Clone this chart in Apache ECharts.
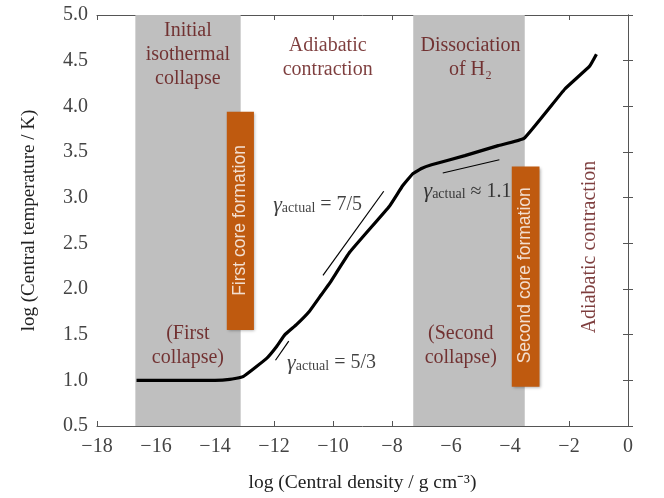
<!DOCTYPE html>
<html>
<head>
<meta charset="utf-8">
<script src="https://cdn.jsdelivr.net/npm/echarts@6/dist/echarts.min.js"></script>
<style>
  html, body { margin: 0; padding: 0; background: #fff; }
  #chart { width: 664px; height: 498px; }
</style>
</head>
<body>
<div id="chart"></div>
<script>
// log density vs log temperature track
var densityLog = [-16.66, -15.5, -14.5, -14.0, -13.5, -13.05, -12.25, -11.91, -11.63, -11.24, -10.79, -10.39, -10.1, -9.43, -8.08, -7.64, -7.3, -7.0, -6.66, -5.53, -4.4, -3.52, -2.14, -1.3, -1.07];
var tempLog    = [1.0, 1.0, 1.0, 1.0, 1.01, 1.04, 1.24, 1.37, 1.5, 1.61, 1.76, 1.94, 2.07, 2.405, 2.91, 3.13, 3.26, 3.32, 3.36, 3.46, 3.57, 3.65, 4.19, 4.44, 4.57];

// gray phase bands [x0, x1]
var bands = [[-16.7, -13.13], [-7.28, -3.5]];
// orange boxes [x0, y0, x1, y1]
var coreBoxes = [[-13.6, 1.55, -12.68, 3.94], [-3.94, 0.93, -3.0, 3.34]];

// slope guide lines
var guide53 = [[-11.95, 1.22], [-11.5, 1.43]];
var guide75 = [[-10.34, 2.15], [-8.28, 3.07]];
var guide11 = [[-6.28, 3.27], [-4.36, 3.415]];

// phase labels [x, y, text]
var phaseLabels = [
  [-14.92, 4.57, 'Initial\nisothermal\ncollapse'],
  [-10.18, 4.53, 'Adiabatic\ncontraction'],
  [-5.34, 4.53, 'Dissociation\nof H₂'],
  [-14.92, 1.38, '(First\ncollapse)'],
  [-5.67, 1.38, '(Second\ncollapse)']
];
var coreLabels = [
  [-13.14, 2.75, 'First core formation'],
  [-3.47, 2.15, 'Second core formation']
];
var sideLabel = [[-1.3, 2.46, 'Adiabatic contraction']];
var gammaLabels = [
  [-10.52, 2.92, '='],
  [-5.44, 3.07, '≈'],
  [-10.05, 1.19, '=']
];
var gammaValues = ['7/5', '1.1', '5/3'];

var xTicks = { min: -18, max: 0, interval: 2 };
var yTicks = { min: 0.5, max: 5.0, interval: 0.5 };

var serif = 'Liberation Serif';
var annoColor = '#5e0e0e';

var dom = document.getElementById('chart');
var myChart = echarts.init(dom);

function pairs(xs, ys) {
  return xs.map(function (x, i) { return [x, ys[i]]; });
}

var axisLine = { lineStyle: { color: '#555', width: 1 } };
var axisTick = { inside: true, length: 5, lineStyle: { color: '#555' } };

var option = {
  animation: false,
  grid: { left: 97, right: 36, top: 15, bottom: 70 },
  xAxis: [
    {
      type: 'value', min: xTicks.min, max: xTicks.max, interval: xTicks.interval,
      position: 'bottom',
      axisLine: axisLine, axisTick: axisTick, splitLine: { show: false },
      axisLabel: {
        color: '#444', fontFamily: serif, fontSize: 20, margin: 11,
        formatter: function (v) { return v < 0 ? '\u2212' + Math.abs(v) : String(v); }
      },
      name: 'log (Central density / g cm⁻³)',
      nameLocation: 'middle', nameGap: 47,
      nameTextStyle: { color: '#222', fontFamily: serif, fontSize: 19.5 }
    },
    {
      type: 'value', min: xTicks.min, max: xTicks.max, interval: xTicks.interval,
      position: 'top',
      axisLine: axisLine, axisTick: axisTick, splitLine: { show: false },
      axisLabel: { show: false }
    }
  ],
  yAxis: [
    {
      type: 'value', min: yTicks.min, max: yTicks.max, interval: yTicks.interval,
      position: 'left',
      axisLine: { show: true, lineStyle: { color: '#555', width: 1 } },
      axisTick: axisTick, splitLine: { show: false },
      axisLabel: {
        color: '#444', fontFamily: serif, fontSize: 20, margin: 9,
        formatter: function (v) { return v.toFixed(1); }
      },
      name: 'log (Central temperature / K)',
      nameLocation: 'middle', nameGap: 58,
      nameTextStyle: { color: '#222', fontFamily: serif, fontSize: 19 }
    },
    {
      type: 'value', min: yTicks.min, max: yTicks.max, interval: yTicks.interval,
      position: 'right',
      axisLine: { show: true, lineStyle: { color: '#555', width: 1 } },
      axisTick: axisTick, splitLine: { show: false },
      axisLabel: { show: false }
    }
  ],
  series: [
    {
      // gray bands and orange boxes
      type: 'line', data: [], silent: true,
      markArea: {
        silent: true,
        data: bands.map(function (b) {
          return [
            { xAxis: b[0], yAxis: yTicks.min, itemStyle: { color: '#bfbfbf' } },
            { xAxis: b[1], yAxis: yTicks.max }
          ];
        }).concat(coreBoxes.map(function (b) {
          return [
            { xAxis: b[0], yAxis: b[1], itemStyle: { color: '#bf5a0f', shadowBlur: 3, shadowColor: 'rgba(0,0,0,0.35)', shadowOffsetX: 1, shadowOffsetY: 1 } },
            { xAxis: b[2], yAxis: b[3] }
          ];
        }))
      }
    },
    {
      type: 'line', data: pairs(densityLog, tempLog), showSymbol: false, symbol: 'none',
      smooth: 0.1, lineStyle: { color: '#000', width: 3.2 }, z: 5
    },
    { type: 'line', data: guide53, symbol: 'none', lineStyle: { color: '#000', width: 1.2 }, z: 4 },
    { type: 'line', data: guide75, symbol: 'none', lineStyle: { color: '#000', width: 1.2 }, z: 4 },
    { type: 'line', data: guide11, symbol: 'none', lineStyle: { color: '#000', width: 1.2 }, z: 4 },
    {
      type: 'scatter', symbolSize: 0, z: 6,
      data: phaseLabels.map(function (p) { return { value: [p[0], p[1]], name: p[2] }; }),
      label: {
        show: true, position: 'inside', formatter: '{b}',
        color: annoColor, fontFamily: serif, fontSize: 20, lineHeight: 24, align: 'center'
      }
    },
    {
      type: 'scatter', symbolSize: 0, z: 6,
      data: coreLabels.map(function (p) { return { value: [p[0], p[1]], name: p[2] }; }),
      label: {
        show: true, position: 'inside', formatter: '{b}', rotate: 90,
        color: '#fff', fontFamily: 'Liberation Sans', fontSize: 17.5
      }
    },
    {
      type: 'scatter', symbolSize: 0, z: 6,
      data: sideLabel.map(function (p) { return { value: [p[0], p[1]], name: p[2] }; }),
      label: {
        show: true, position: 'inside', formatter: '{b}', rotate: 90,
        color: annoColor, fontFamily: serif, fontSize: 20
      }
    },
    {
      type: 'scatter', symbolSize: 0, z: 6,
      data: gammaLabels.map(function (p, i) { return { value: [p[0], p[1]], name: p[2] + ' ' + gammaValues[i] }; }),
      label: {
        show: true, position: 'inside',
        formatter: function (p) { return '{g|γ}{s|actual}{t| ' + p.name + '}'; },
        rich: {
          g: { fontFamily: serif, fontStyle: 'italic', fontSize: 22, color: '#111' },
          s: { fontFamily: serif, fontSize: 14, color: '#111', padding: [7, 0, 0, 0] },
          t: { fontFamily: serif, fontSize: 20, color: '#111' }
        }
      }
    }
  ]
};

if (option && typeof option === 'object') {
  myChart.setOption(option, true);
}
window.addEventListener('resize', function () {
  myChart.resize();
});
</script>
</body>
</html>
